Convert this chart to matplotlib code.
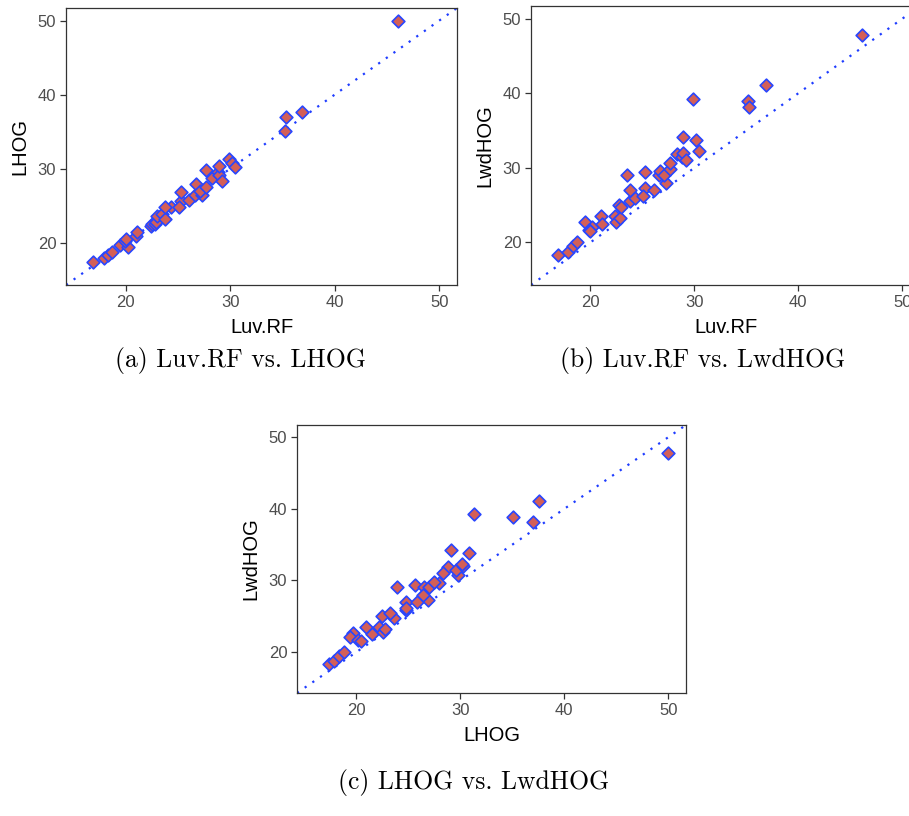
import numpy as np
import matplotlib
matplotlib.use("Agg")
import matplotlib.pyplot as plt

plt.rcParams['font.family'] = ['Liberation Sans', 'DejaVu Sans']

# one row per image: error of each detector
luv_rf = [16.9, 17.9, 18.3, 18.7, 19.5, 20.2, 19.9, 20.0, 21.0, 21.1,
          22.4, 22.5, 22.8, 22.9, 23.0, 23.5, 23.8, 24.3, 23.8, 25.3,
          25.3, 26.1, 25.1, 26.6, 26.7, 27.3, 27.1, 27.7, 27.7, 28.3,
          28.85, 28.95, 28.95, 29.25, 29.9, 30.2, 30.5, 35.2, 35.3, 36.9,
          46.1]
lhog = [17.4, 17.9, 18.3, 18.8, 19.7, 19.4, 20.2, 20.5, 20.9, 21.5,
        22.2, 22.6, 22.5, 22.8, 23.65, 23.9, 23.2, 24.8, 24.8, 25.6,
        26.9, 25.8, 24.8, 26.5, 28.0, 26.4, 27.0, 27.5, 29.8, 28.8,
        29.6, 29.1, 30.3, 28.35, 31.3, 30.8, 30.2, 35.1, 37.0, 37.6,
        50.0]
lwdhog = [18.35, 18.7, 19.5, 20.05, 22.7, 22.1, 21.7, 21.5, 23.5, 22.5,
          23.5, 22.8, 25.0, 23.3, 24.8, 29.1, 25.5, 25.9, 27.05, 29.4,
          27.3, 27.0, 26.2, 29.1, 29.6, 28.0, 29.1, 29.8, 30.7, 31.9,
          31.4, 34.2, 32.0, 31.1, 39.3, 33.8, 32.3, 38.9, 38.1, 41.1,
          47.85]

ticks = [20, 30, 40, 50]
lims = (14.3, 51.7)

W, H = 909, 816
fig = plt.figure(figsize=(W / 100, H / 100), dpi=100)


def px_axes(left, top, right, bottom):
    return fig.add_axes([left / W, 1 - bottom / H, (right - left) / W, (bottom - top) / H])


def panel(ax, x, y, xlabel, ylabel):
    ax.axline((20, 20), slope=1, color='#1f3dff', ls=(0, (1, 3.2)), lw=1.6, zorder=1)
    ax.scatter(x, y, marker='D', s=42, facecolor='#d35f57', edgecolor='#2846ff',
               linewidth=1.2, zorder=2)
    ax.set_xlim(*lims)
    ax.set_ylim(*lims)
    ax.set_xticks(ticks)
    ax.set_yticks(ticks)
    for s in ax.spines.values():
        s.set_color('#333333')
        s.set_linewidth(0.9)
    ax.tick_params(color='#333333', length=4, width=0.9, labelcolor='#4d4d4d',
                   labelsize=12, pad=3)
    ax.set_xlabel(xlabel, fontsize=14.5, labelpad=6)
    ax.set_ylabel(ylabel, fontsize=14.5, labelpad=6)


ax1 = px_axes(66, 8, 457, 285)
panel(ax1, luv_rf, lhog, 'Luv.RF', 'LHOG')

ax2 = px_axes(531, 6, 920, 285)
panel(ax2, luv_rf, lwdhog, 'Luv.RF', 'LwdHOG')

ax3 = px_axes(297, 425, 686, 693)
panel(ax3, lhog, lwdhog, 'LHOG', 'LwdHOG')

cap = dict(fontsize=18.5, family='cmr10', ha='center', va='center')
fig.text(240 / W, 1 - 361 / H, '(a) Luv.RF vs. LHOG', **cap)
fig.text(703 / W, 1 - 361 / H, '(b) Luv.RF vs. LwdHOG', **cap)
fig.text(474 / W, 1 - 782 / H, '(c) LHOG vs. LwdHOG', **cap)

fig.savefig('out.png', dpi=100)
